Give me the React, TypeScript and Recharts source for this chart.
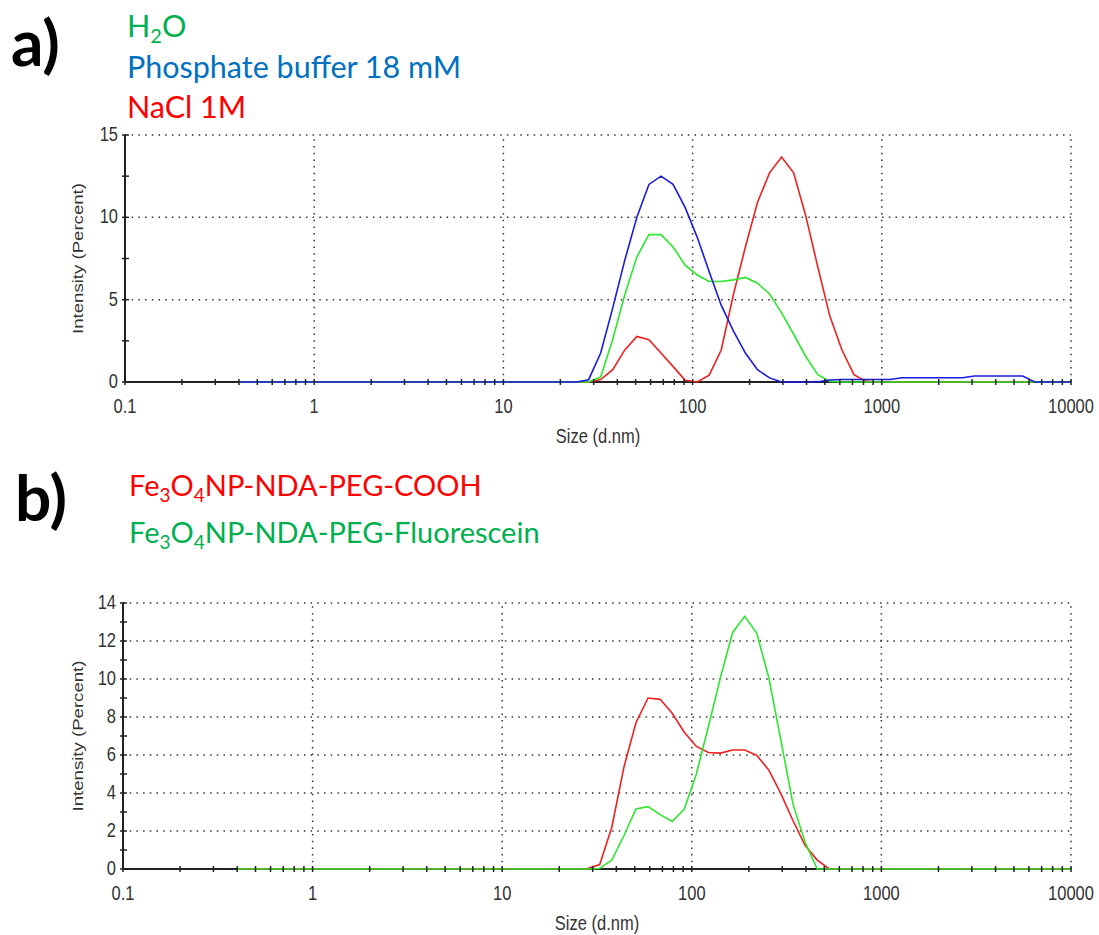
import React from "react";
import { LineChart, Line, XAxis, YAxis, ReferenceLine, Label } from "recharts";

// DLS size bins (d.nm)
const sizes = [
  0.4, 0.4632, 0.5365, 0.6213, 0.7195, 0.8332, 0.9649, 1.117, 1.294, 1.499,
  1.736, 2.01, 2.328, 2.696, 3.122, 3.615, 4.187, 4.849, 5.615, 6.503,
  7.531, 8.721, 10.1, 11.7, 13.54, 15.69, 18.17, 21.04, 24.36, 28.21,
  32.67, 37.84, 43.82, 50.75, 58.77, 68.06, 78.82, 91.28, 105.7, 122.4,
  141.8, 164.2, 190.1, 220.2, 255, 295.3, 342, 396.1, 458.7, 531.2,
  615.1, 712.4, 825, 955.4, 1106, 1281, 1484, 1718, 1990, 2305,
  2669, 3091, 3580, 4145, 4801, 5560, 6439, 7456, 8635, 10000,
];

// panel a
const h2o = [
  0, 0, 0, 0, 0, 0, 0, 0, 0, 0,
  0, 0, 0, 0, 0, 0, 0, 0, 0, 0,
  0, 0, 0, 0, 0, 0, 0, 0, 0, 0,
  0.3, 2.6, 5.3, 7.6, 8.95, 8.95, 8.2, 7.1, 6.5, 6.1,
  6.1, 6.2, 6.35, 6.0, 5.35, 4.2, 2.9, 1.55, 0.45, 0.04,
  0, 0, 0, 0, 0, 0, 0, 0, 0, 0,
  0, 0, 0, 0, 0, 0, 0, 0, 0, 0,
];
const phosphate = [
  0, 0, 0, 0, 0, 0, 0, 0, 0, 0,
  0, 0, 0, 0, 0, 0, 0, 0, 0, 0,
  0, 0, 0, 0, 0, 0, 0, 0, 0, 0.14,
  1.76, 4.5, 7.4, 10.0, 12.0, 12.5, 12.0, 10.6, 8.8, 6.7,
  4.65, 3.1, 1.76, 0.75, 0.25, 0, 0, 0, 0.02, 0.12,
  0.15, 0.15, 0.15, 0.15, 0.15, 0.26, 0.26, 0.26, 0.26, 0.26,
  0.26, 0.36, 0.36, 0.36, 0.36, 0.36, 0, 0, 0, 0,
];
const nacl = [
  0, 0, 0, 0, 0, 0, 0, 0, 0, 0,
  0, 0, 0, 0, 0, 0, 0, 0, 0, 0,
  0, 0, 0, 0, 0, 0, 0, 0, 0, 0,
  0.15, 0.75, 1.95, 2.77, 2.57, 1.76, 0.95, 0.1, 0, 0.42,
  1.96, 5.3, 8.2, 10.9, 12.7, 13.66, 12.7, 10.1, 7.0, 4.0,
  1.96, 0.45, 0.04, 0, 0, 0, 0, 0, 0, 0,
  0, 0, 0, 0, 0, 0, 0, 0, 0, 0,
];

// panel b
const cooh = [
  0, 0, 0, 0, 0, 0, 0, 0, 0, 0,
  0, 0, 0, 0, 0, 0, 0, 0, 0, 0,
  0, 0, 0, 0, 0, 0, 0, 0, 0, 0.02,
  0.23, 2.2, 5.35, 7.7, 9.0, 8.93, 8.2, 7.2, 6.45, 6.13,
  6.1, 6.26, 6.26, 5.98, 5.2, 3.95, 2.54, 1.23, 0.47, 0,
  0, 0, 0, 0, 0, 0, 0, 0, 0, 0,
  0, 0, 0, 0, 0, 0, 0, 0, 0, 0,
];
const fluorescein = [
  0, 0, 0, 0, 0, 0, 0, 0, 0, 0,
  0, 0, 0, 0, 0, 0, 0, 0, 0, 0,
  0, 0, 0, 0, 0, 0, 0, 0, 0, 0,
  0.03, 0.47, 1.75, 3.16, 3.28, 2.86, 2.5, 3.16, 5.0, 7.5,
  10.1, 12.45, 13.3, 12.4, 10.05, 6.75, 3.4, 1.4, 0, 0,
  0, 0, 0, 0, 0, 0, 0, 0, 0, 0,
  0, 0, 0, 0, 0, 0, 0, 0, 0, 0,
];

const xMajor = [0.1, 1, 10, 100, 1000, 10000];
const xMinorSteps = [2, 3, 4, 5, 6, 7, 8, 9];
const yMajorA = [0, 5, 10, 15];
const yMinorA = [2.5, 7.5, 12.5];
const yMajorB = [0, 2, 4, 6, 8, 10, 12, 14];
const yMinorB = [1, 3, 5, 7, 9, 11, 13];

const xTicks = [
  ...xMajor,
  ...xMajor.slice(0, -1).flatMap((d) => xMinorSteps.map((m) => m * d)),
].sort((a, b) => a - b);

const dataA = sizes.map((s, i) => ({ size: s, h2o: h2o[i], phosphate: phosphate[i], nacl: nacl[i] }));
const dataB = sizes.map((s, i) => ({ size: s, cooh: cooh[i], fluorescein: fluorescein[i] }));

const AXIS = "#222";
const TICK_TEXT = "#333";
const TICK_FONT = "'Liberation Sans', Arial, sans-serif";
const LEGEND_FONT = "Lato, 'Open Sans', sans-serif";
const GRID = { stroke: "#333", strokeDasharray: "1.5 5.2", strokeWidth: 1.5 };
const z = (n: number) => ({ zIndex: n } as any);

const XTick = (props: any) => {
  const { x, y, payload } = props;
  const v = payload.value;
  const major = xMajor.some((m) => Math.abs(m - v) < 1e-9);
  return (
    <g>
      <line x1={x} x2={x} y1={y - 3} y2={y + 3} stroke={AXIS} strokeWidth={1.5} />
      {major && (
        <text
          transform={`translate(${x},${y + 31}) scale(1,1.2)`}
          textAnchor="middle"
          fontSize={16.5}
          fontFamily={TICK_FONT}
          fill={TICK_TEXT}
        >
          {v}
        </text>
      )}
    </g>
  );
};

const makeYTick = (majors: number[]) => (props: any) => {
  const { x, y, payload } = props;
  const v = payload.value;
  const major = majors.includes(v);
  return (
    <g>
      <line x1={x - 3} x2={x + 4} y1={y} y2={y} stroke={AXIS} strokeWidth={1.5} />
      {major && (
        <text
          transform={`translate(${x - 7},${y + 6}) scale(1,1.2)`}
          textAnchor="end"
          fontSize={16.5}
          fontFamily={TICK_FONT}
          fill={TICK_TEXT}
        >
          {v}
        </text>
      )}
    </g>
  );
};

const YTitle = (props: any) => {
  const vb = props.viewBox || {};
  const cx = (vb.x || 0) + 78;
  const cy = (vb.y || 0) + (vb.height || 0) / 2;
  return (
    <text
      transform={`translate(${cx},${cy}) scale(1,1.2) rotate(-90)`}
      textAnchor="middle"
      dy="0.35em"
      fontSize={15.5}
      fontFamily={TICK_FONT}
      fill={TICK_TEXT}
    >
      Intensity (Percent)
    </text>
  );
};

const XTitle = (props: any) => {
  const vb = props.viewBox || {};
  const cx = (vb.x || 0) + (vb.width || 0) / 2;
  const by = (vb.y || 0) + 61;
  return (
    <text
      transform={`translate(${cx},${by}) scale(1,1.2)`}
      textAnchor="middle"
      fontSize={16.5}
      fontFamily={TICK_FONT}
      fill={TICK_TEXT}
    >
      Size (d.nm)
    </text>
  );
};

function Panel({
  data,
  height,
  top,
  left,
  xAxisHeight,
  yMax,
  yMajor,
  yMinor,
  series,
}: {
  data: any[];
  height: number;
  top: number;
  left: number;
  xAxisHeight: number;
  yMax: number;
  yMajor: number[];
  yMinor: number[];
  series: { key: string; color: string }[];
}) {
  const yTicks = [...yMajor, ...yMinor].sort((a, b) => a - b);
  return (
    <LineChart width={1099} height={height} data={data} margin={{ top, right: 28, bottom: 0, left: 0 }}>
      {xMajor.slice(1).map((v) => (
        <ReferenceLine key={"vx" + v} x={v} {...GRID} {...z(100)} />
      ))}
      {yMajor.slice(1).map((v) => (
        <ReferenceLine key={"hy" + v} y={v} {...GRID} {...z(100)} />
      ))}
      {/* baseline drawn under the series, ticks drawn over them */}
      <ReferenceLine y={0} stroke={AXIS} strokeWidth={2} {...z(450)} />
      <XAxis
        dataKey="size"
        type="number"
        scale="log"
        domain={[0.1, 10000]}
        ticks={xTicks}
        interval={0}
        height={xAxisHeight}
        tickSize={0}
        tickMargin={0}
        tickLine={false}
        axisLine={false}
        tick={<XTick />}
        allowDataOverflow
        {...z(700)}
      >
        <Label content={<XTitle />} />
      </XAxis>
      <YAxis
        type="number"
        domain={[0, yMax]}
        ticks={yTicks}
        interval={0}
        width={left}
        tickSize={0}
        tickMargin={0}
        tickLine={false}
        axisLine={{ stroke: AXIS, strokeWidth: 2 }}
        tick={makeYTick(yMajor)}
      >
        <Label content={<YTitle />} />
      </YAxis>
      {series.map((s) => (
        <Line
          key={s.key}
          type="linear"
          dataKey={s.key}
          stroke={s.color}
          strokeWidth={1.6}
          dot={false}
          isAnimationActive={false}
          {...z(600)}
        />
      ))}
    </LineChart>
  );
}

export default function App() {
  return (
    <div style={{ position: "absolute", left: 0, top: 0, width: 1099, height: 935, background: "#fff" }}>
      <div style={{ position: "absolute", left: 0, top: 0 }}>
        <Panel
          data={dataA}
          height={460}
          top={135}
          left={125}
          xAxisHeight={78}
          yMax={15}
          yMajor={yMajorA}
          yMinor={yMinorA}
          series={[
            { key: "nacl", color: "#ee2020" },
            { key: "h2o", color: "#2ee62e" },
            { key: "phosphate", color: "#1a1ae0" },
          ]}
        />
      </div>
      <div style={{ position: "absolute", left: 0, top: 460 }}>
        <Panel
          data={dataB}
          height={475}
          top={143}
          left={123}
          xAxisHeight={66}
          yMax={14}
          yMajor={yMajorB}
          yMinor={yMinorB}
          series={[
            { key: "cooh", color: "#ee2020" },
            { key: "fluorescein", color: "#2ee62e" },
          ]}
        />
      </div>
      <svg
        width={1099}
        height={935}
        style={{ position: "absolute", left: 0, top: 0, pointerEvents: "none" }}
        fontFamily={LEGEND_FONT}
      >
        <text x={11} y={66} fontSize={64} fontWeight={700} fill="#000">a)</text>
        <text x={127} y={37} fontSize={30.5} fill="#00b050">
          H<tspan fontSize={20} dy={6}>2</tspan><tspan dy={-6}>O</tspan>
        </text>
        <text x={127} y={78} fontSize={30.5} fill="#0070c0">Phosphate buffer 18 mM</text>
        <text x={127} y={118} fontSize={30.5} fill="#ff0000">NaCl 1M</text>

        <text x={15} y={521} fontSize={64} fontWeight={700} fill="#000">b)</text>
        <text x={129} y={496} fontSize={29} fill="#ff0000">
          Fe<tspan fontSize={19} dy={6}>3</tspan><tspan dy={-6}>O</tspan>
          <tspan fontSize={19} dy={6}>4</tspan><tspan dy={-6}>NP-NDA-PEG-COOH</tspan>
        </text>
        <text x={129} y={543} fontSize={29} fill="#00b050">
          Fe<tspan fontSize={19} dy={6}>3</tspan><tspan dy={-6}>O</tspan>
          <tspan fontSize={19} dy={6}>4</tspan><tspan dy={-6}>NP-NDA-PEG-Fluorescein</tspan>
        </text>
      </svg>
    </div>
  );
}
